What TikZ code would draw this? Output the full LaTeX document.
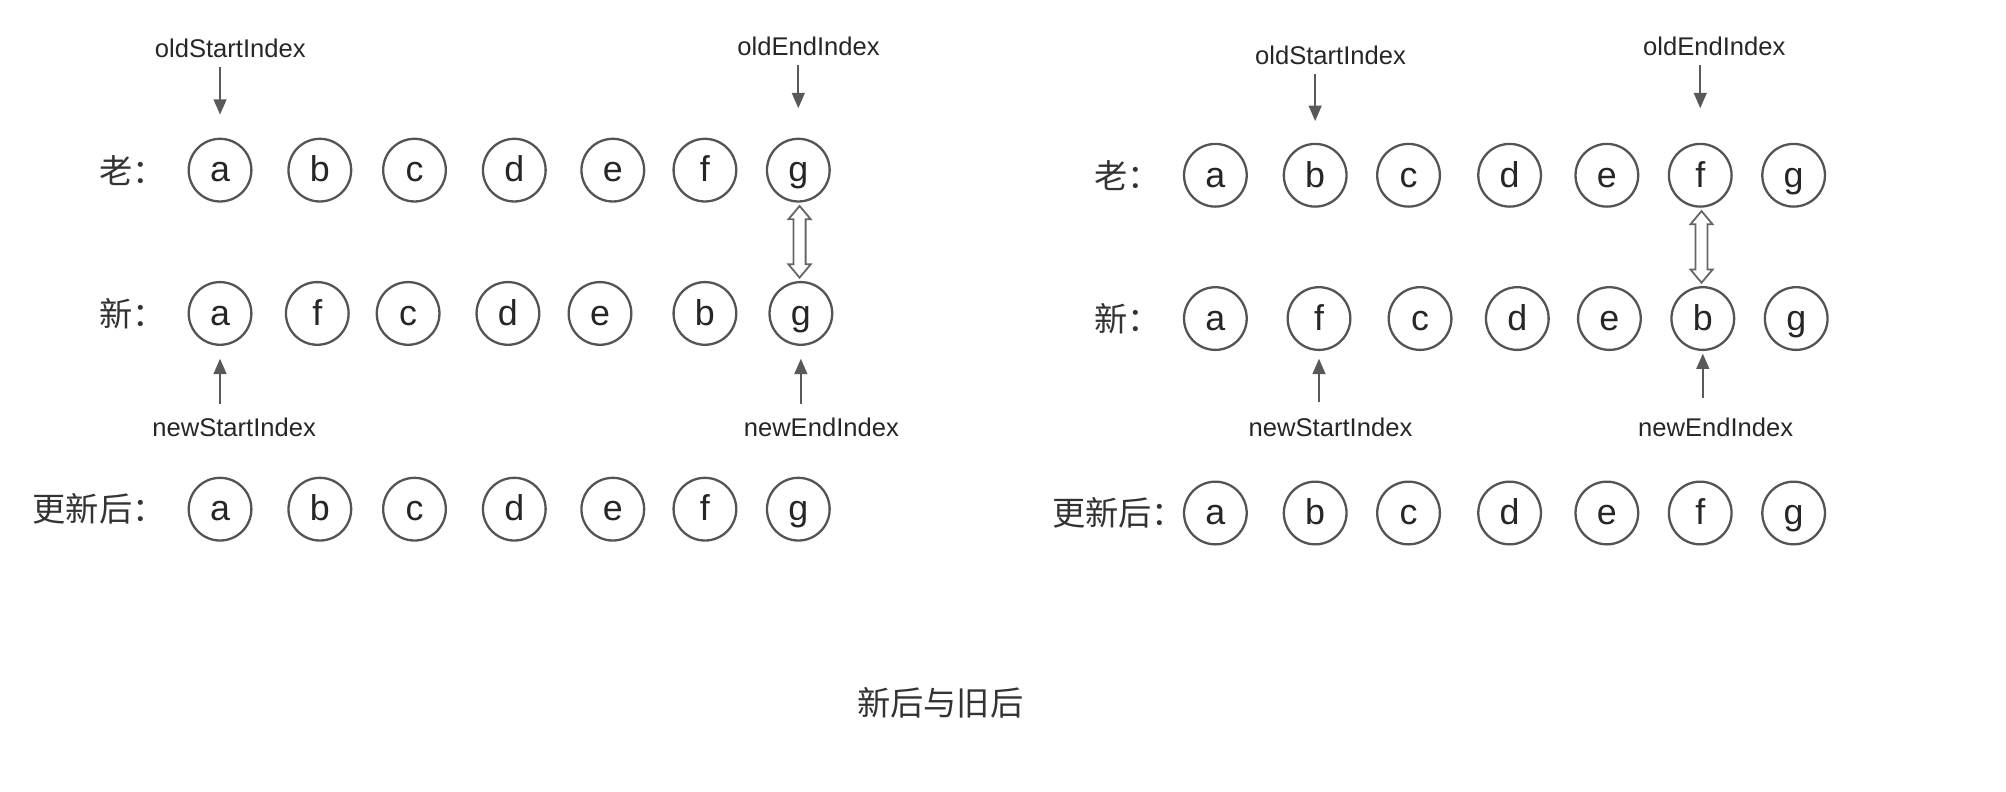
\documentclass[tikz,border=0pt]{standalone}
\usepackage{fontspec}
\setmainfont{Liberation Sans}
\newfontfamily\cjk{Noto Sans CJK SC}
\usetikzlibrary{shapes,arrows.meta,calc}

\begin{document}
\begin{tikzpicture}[x=0.5pt,y=-0.5pt,
  el/.style={ellipse,draw=black!67,line width=0.9pt,minimum width=24.5pt,minimum height=24.5pt,
    inner sep=0pt,text height=9.2pt,text depth=0pt,font=\fontsize{14}{14}\selectfont,text=black!85},
  idx/.style={inner sep=0pt,font=\fontsize{10}{12}\selectfont,text=black!85},
  ptr/.style={draw=black!65,line width=0.75pt,-{Triangle[length=6pt,width=5pt]}},
  row/.style={anchor=west,inner sep=0pt,font=\cjk\fontsize{13}{13}\selectfont,text=black!80},
  swap/.style={double arrow,draw=black!60,line width=0.7pt,fill=white,minimum height=28pt,
    inner sep=2pt,double arrow head extend=2pt,double arrow tip angle=80,rotate=90}]
\useasboundingbox (0,0) rectangle (1568,619);

\node[row] (lo) at (77,133) {老：};
\node[row] (ln) at (77,245) {新：};
\node[row] (lu) at (25,398) {更新后：};

\node[el] (o1) at (172,133) {a};
\node[el] (o2) at (250,133) {b};
\node[el] (o3) at (324,133) {c};
\node[el] (o4) at (402,133) {d};
\node[el] (o5) at (479,133) {e};
\node[el] (o6) at (551,133) {f};
\node[el] (o7) at (624,133) {g};

\node[el] (n1) at (172,245) {a};
\node[el] (n2) at (248,245) {f};
\node[el] (n3) at (319,245) {c};
\node[el] (n4) at (397,245) {d};
\node[el] (n5) at (469,245) {e};
\node[el] (n6) at (551,245) {b};
\node[el] (n7) at (626,245) {g};

\node[el] (u1) at (172,398) {a};
\node[el] (u2) at (250,398) {b};
\node[el] (u3) at (324,398) {c};
\node[el] (u4) at (402,398) {d};
\node[el] (u5) at (479,398) {e};
\node[el] (u6) at (551,398) {f};
\node[el] (u7) at (624,398) {g};

\node[idx] (os) at (180,38) {oldStartIndex};
\node[idx] (oe) at (632,36) {oldEndIndex};
\node[idx] (ns) at (183,334) {newStartIndex};
\node[idx] (ne) at (642,334) {newEndIndex};

\draw[ptr,shorten <=3.4pt,shorten >=9pt] (os.south -| o1) -- (o1.north);
\draw[ptr,shorten <=3.4pt,shorten >=11.5pt] (oe.south -| o7) -- (o7.north);
\draw[ptr,shorten <=5.4pt,shorten >=5pt] (ns.north -| n1) -- (n1.south);
\draw[ptr,shorten <=5.4pt,shorten >=5pt] (ne.north -| n7) -- (n7.south);

\node[swap] (s1) at ($(o7.south)!.5!(n7.north)$) {};

\node[row] (rlo) at (855,137) {老：};
\node[row] (rln) at (855,249) {新：};
\node[row] (rlu) at (822,401) {更新后：};

\node[el] (ro1) at (950,137) {a};
\node[el] (ro2) at (1028,137) {b};
\node[el] (ro3) at (1101,137) {c};
\node[el] (ro4) at (1180,137) {d};
\node[el] (ro5) at (1256,137) {e};
\node[el] (ro6) at (1329,137) {f};
\node[el] (ro7) at (1402,137) {g};

\node[el] (rn1) at (950,249) {a};
\node[el] (rn2) at (1031,249) {f};
\node[el] (rn3) at (1110,249) {c};
\node[el] (rn4) at (1186,249) {d};
\node[el] (rn5) at (1258,249) {e};
\node[el] (rn6) at (1331,249) {b};
\node[el] (rn7) at (1404,249) {g};

\node[el] (ru1) at (950,401) {a};
\node[el] (ru2) at (1028,401) {b};
\node[el] (ru3) at (1101,401) {c};
\node[el] (ru4) at (1180,401) {d};
\node[el] (ru5) at (1256,401) {e};
\node[el] (ru6) at (1329,401) {f};
\node[el] (ru7) at (1402,401) {g};

\node[idx] (ros) at (1040,43) {oldStartIndex};
\node[idx] (roe) at (1340,36) {oldEndIndex};
\node[idx] (rns) at (1040,334) {newStartIndex};
\node[idx] (rne) at (1341,334) {newEndIndex};

\draw[ptr,shorten <=3.4pt,shorten >=8.5pt] (ros.south -| ro2) -- (ro2.north);
\draw[ptr,shorten <=3.4pt,shorten >=13.5pt] (roe.south -| ro6) -- (ro6.north);
\draw[ptr,shorten <=6pt,shorten >=3pt] (rns.north -| rn2) -- (rn2.south);
\draw[ptr,shorten <=7.4pt,shorten >=1pt] (rne.north -| rn6) -- (rn6.south);

\node[swap] (s2) at ($(ro6.south)!.5!(rn6.north)$) {};

\node[font=\cjk\fontsize{13}{13}\selectfont,text=black!80] (title) at (735,549) {新后与旧后};

\end{tikzpicture}
\end{document}
